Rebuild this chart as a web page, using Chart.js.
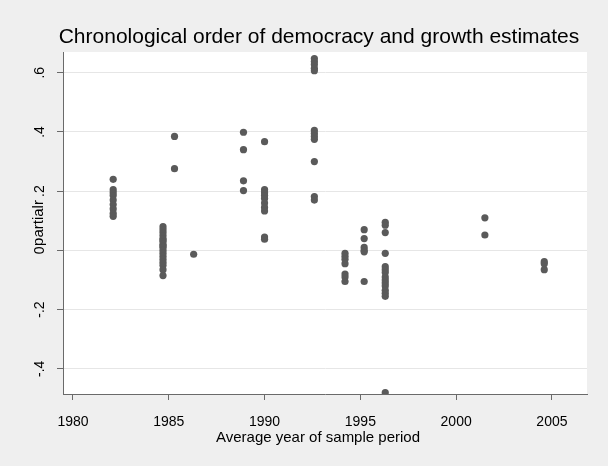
<!DOCTYPE html>
<html>
<head>
<meta charset="utf-8">
<script src="https://cdn.jsdelivr.net/npm/chart.js@4/dist/chart.umd.min.js"></script>
<style>
  html, body { margin: 0; padding: 0; background: #efefef; }
  canvas { display: block; }
</style>
</head>
<body>
<canvas id="scatter" width="608" height="466"></canvas>
<script>
// average year of each study's sample period, one entry per column of estimates
const sampleYears = [1982.1, 1984.7, 1985.3, 1986.3, 1988.9, 1990.0, 1992.6, 1994.2, 1995.2, 1996.3, 2001.5, 2004.6];

// partial correlations reported at each of those years
const partialr = [
  [0.24, 0.205, 0.195, 0.185, 0.17, 0.155, 0.14, 0.125, 0.115],
  [0.08, 0.07, 0.06, 0.05, 0.04, 0.035, 0.03, 0.02, 0.015, 0.01, 0.0, -0.01, -0.02, -0.03, -0.04, -0.05, -0.065, -0.085],
  [0.385, 0.276],
  [-0.013],
  [0.399, 0.34, 0.235, 0.202],
  [0.367, 0.205, 0.195, 0.185, 0.175, 0.16, 0.145, 0.133, 0.045, 0.038],
  [0.648, 0.638, 0.628, 0.615, 0.607, 0.405, 0.395, 0.385, 0.375, 0.30, 0.182, 0.17],
  [-0.01, -0.02, -0.03, -0.045, -0.08, -0.09, -0.105],
  [0.07, 0.04, 0.01, 0.0, -0.005, -0.105],
  [0.095, 0.085, 0.06, -0.01, -0.055, -0.065, -0.075, -0.09, -0.1, -0.11, -0.12, -0.135, -0.145, -0.155, -0.48],
  [0.11, 0.052],
  [-0.038, -0.045, -0.065]
];

const xTickValues = [1980, 1985, 1990, 1995, 2000, 2005];
const yTickValues = [-0.4, -0.2, 0, 0.2, 0.4, 0.6];
const yTickLabels = ['-.4', '-.2', '0', '.2', '.4', '.6'];

const titleText = 'Chronological order of democracy and growth estimates';
const xTitleText = 'Average year of sample period';

const points = [];
sampleYears.forEach((yr, i) => {
  partialr[i].forEach(v => points.push({ x: yr, y: v }));
});

const FONT = '"Liberation Sans", Arial, sans-serif';

// grey graph region, white plot region, plus the centred titles
const stataLook = {
  id: 'stataLook',
  beforeDraw(chart) {
    const { ctx, chartArea: a } = chart;
    ctx.save();
    ctx.fillStyle = '#efefef';
    ctx.fillRect(0, 0, chart.width, chart.height);
    ctx.fillStyle = '#ffffff';
    ctx.fillRect(a.left, a.top, a.right - a.left, a.bottom - a.top);
    ctx.restore();
  },
  afterDraw(chart) {
    const { ctx } = chart;
    ctx.save();
    ctx.fillStyle = '#000';
    ctx.textAlign = 'center';
    ctx.textBaseline = 'alphabetic';
    ctx.font = '21px ' + FONT;
    ctx.fillText(titleText, 319, 43);
    ctx.font = '15px ' + FONT;
    ctx.fillText(xTitleText, 318, 442);
    ctx.restore();
  }
};

new Chart(document.getElementById('scatter').getContext('2d'), {
  type: 'scatter',
  plugins: [stataLook],
  data: {
    datasets: [{
      label: 'partialr',
      data: points,
      backgroundColor: '#5a5a5a',
      borderColor: '#5a5a5a',
      borderWidth: 0,
      pointRadius: 3.6,
      pointHoverRadius: 3.6
    }]
  },
  options: {
    responsive: false,
    animation: false,
    layout: { padding: { left: 0, right: 21, top: 52, bottom: 0 } },
    plugins: {
      legend: { display: false },
      tooltip: { enabled: false }
    },
    scales: {
      x: {
        type: 'linear',
        min: 1979.48,
        max: 2006.83,
        afterBuildTicks: s => { s.ticks = xTickValues.map(v => ({ value: v })); },
        afterFit: s => { s.height = 72; },
        grid: { drawOnChartArea: false, tickColor: '#6a6a6a', tickLength: 6 },
        border: { color: '#6a6a6a', width: 1 },
        ticks: {
          color: '#000',
          padding: 14,
          maxRotation: 0,
          font: { family: FONT, size: 14 },
          callback: v => String(v)
        }
      },
      y: {
        min: -0.485,
        max: 0.67,
        afterBuildTicks: s => { s.ticks = yTickValues.map(v => ({ value: v })); },
        afterFit: s => { s.width = 63; },
        grid: { color: '#e6e6e6', tickColor: '#6a6a6a', tickLength: 6 },
        border: { color: '#6a6a6a', width: 1 },
        title: {
          display: true,
          text: 'partialr',
          color: '#000',
          padding: { top: 30, bottom: 0 },
          font: { family: FONT, size: 15 }
        },
        ticks: {
          color: '#000',
          padding: 9,
          minRotation: 90,
          maxRotation: 90,
          crossAlign: 'center',
          font: { family: FONT, size: 14 },
          callback: v => yTickLabels[yTickValues.indexOf(v)] ?? ''
        }
      }
    }
  }
});
</script>
</body>
</html>
